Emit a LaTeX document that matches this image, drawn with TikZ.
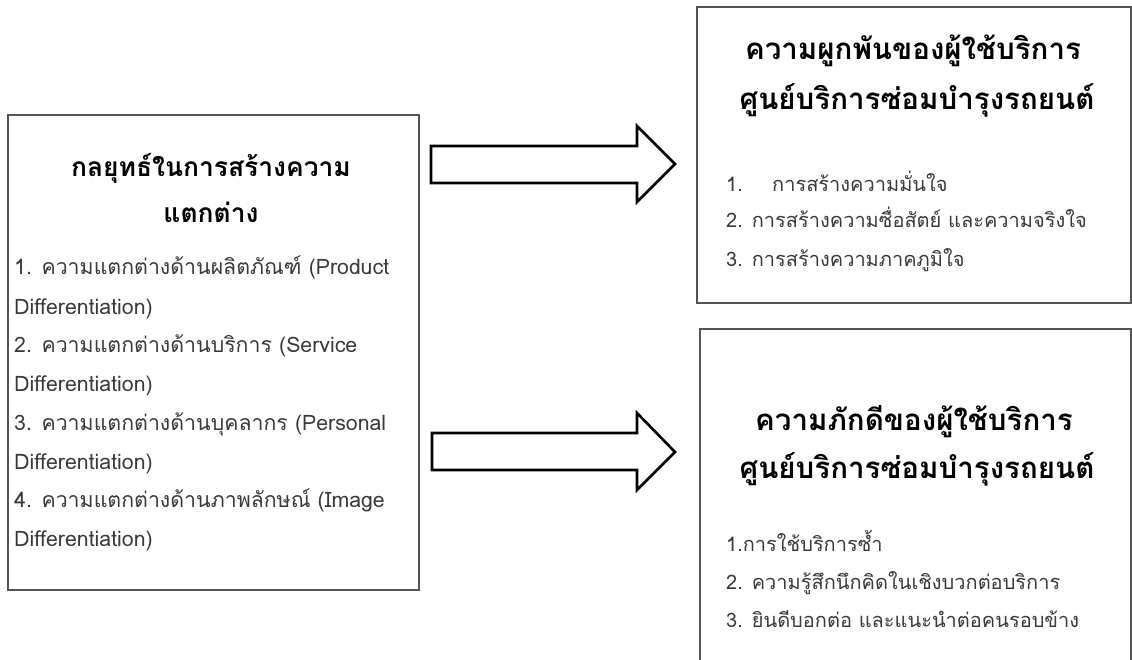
\documentclass[tikz,border=0pt]{standalone}
\usepackage{fontspec}
\setmainfont[Script=Thai]{Loma}
\definecolor{boxgray}{HTML}{555555}
\definecolor{itemgray}{HTML}{3A3A3A}
\begin{document}
\begin{tikzpicture}[x=1pt,y=-1pt,
  box/.style={draw=boxgray, line width=1.1pt},
  ttl/.style={font=\bfseries\fontsize{26.4}{32}\selectfont, anchor=base, text=black, inner sep=0pt},
  bigttl/.style={font=\bfseries\fontsize{29.5}{34}\selectfont, anchor=base, text=black, inner sep=0pt},
  itm/.style={font=\fontsize{20}{24}\selectfont, anchor=base west, text=itemgray, inner sep=0pt},
  litm/.style={itm, font=\fontsize{21.3}{25}\selectfont},
  blockarrow/.style={draw=black, line width=2.6pt, fill=white, line join=miter}]
\useasboundingbox (0,0) rectangle (1132,660);
% boxes
\draw[box] (8,115) rectangle (419,590);
\draw[box] (697,7) rectangle (1131,303);
\draw[box] (700,662) -- (700,329) -- (1131,329) -- (1131,662);
% arrows
\draw[blockarrow] (431,146) -- (637,146) -- (637,126) -- (675,164) -- (637,202) -- (637,183) -- (431,183) -- cycle;
\draw[blockarrow] (432,433) -- (637,433) -- (637,413) -- (675,452) -- (637,490) -- (637,470) -- (432,470) -- cycle;
% left box text
\node[ttl] (l1) at (211,177) {กลยุทธ์ในการสร้างความ};
\node[ttl] (l2) at (211,223) {แตกต่าง};
\node[litm] (li1) at (14,275) {1. ความแตกต่างด้านผลิตภัณฑ์ (Product};
\node[litm] (li2) at (14,314) {Differentiation)};
\node[litm] (li3) at (14,352) {2. ความแตกต่างด้านบริการ (Service};
\node[litm] (li4) at (14,391) {Differentiation)};
\node[litm] (li5) at (14,430) {3. ความแตกต่างด้านบุคลากร (Personal};
\node[litm] (li6) at (14,469) {Differentiation)};
\node[litm] (li7) at (14,507) {4. ความแตกต่างด้านภาพลักษณ์ (Image};
\node[litm] (li8) at (14,546) {Differentiation)};
% top right
\node[bigttl] (t1) at (913,60) {ความผูกพันของผู้ใช้บริการ};
\node[bigttl] (t2) at (917,110) {ศูนย์บริการซ่อมบำรุงรถยนต์};
\node[itm] (ti1a) at (726,192) {1.};
\node[itm] (ti1b) at (772,192) {การสร้างความมั่นใจ};
\node[itm] (ti2) at (726,228) {2. การสร้างความซื่อสัตย์ และความจริงใจ};
\node[itm] (ti3) at (726,267) {3. การสร้างความภาคภูมิใจ};
% bottom right
\node[bigttl] (b1) at (914,430) {ความภักดีของผู้ใช้บริการ};
\node[bigttl] (b2) at (917,478) {ศูนย์บริการซ่อมบำรุงรถยนต์};
\node[itm] (bi1) at (726,551) {1.การใช้บริการซ้ำ};
\node[itm] (bi2) at (726,589) {2. ความรู้สึกนึกคิดในเชิงบวกต่อบริการ};
\node[itm] (bi3) at (726,627) {3. ยินดีบอกต่อ และแนะนำต่อคนรอบข้าง};
\end{tikzpicture}
\end{document}
